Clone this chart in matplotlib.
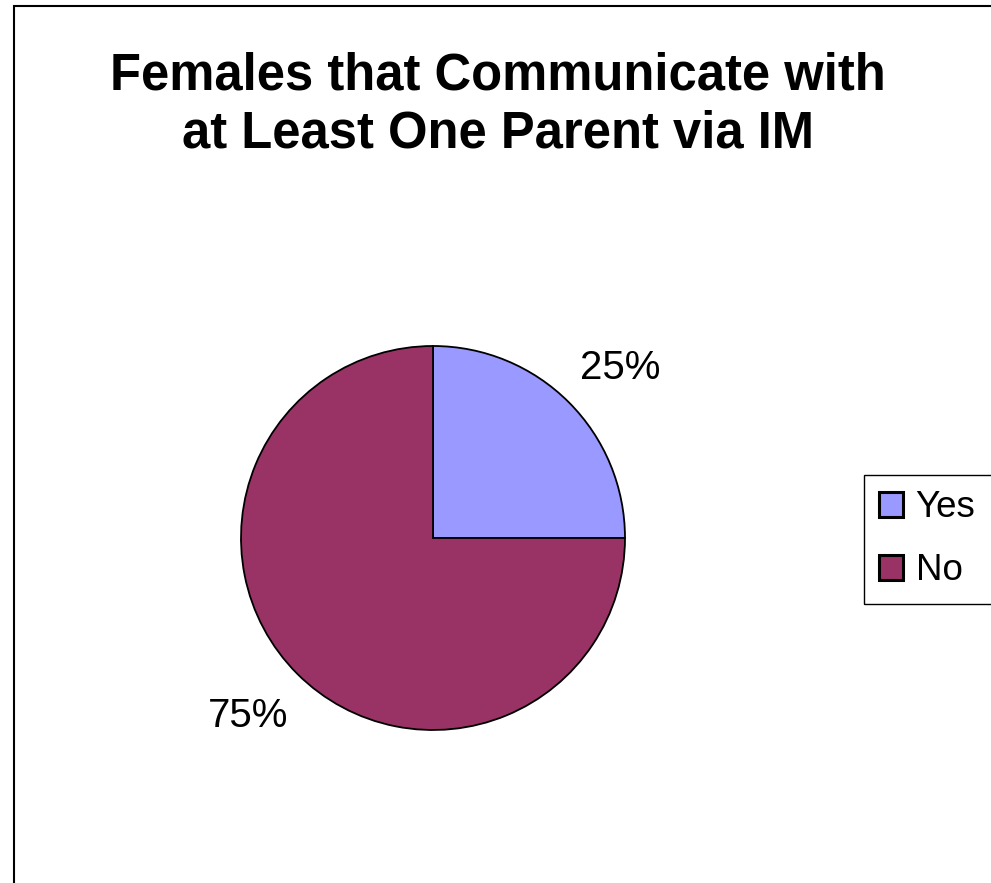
import matplotlib
matplotlib.use("Agg")
import matplotlib.pyplot as plt
from matplotlib.patches import Rectangle, Patch

categories = ["Yes", "No"]
values = [25, 75]
colors = ["#9999FF", "#993366"]
title = "Females that Communicate with\nat Least One Parent via IM"

W, H = 991, 883
fig = plt.figure(figsize=(W / 100, H / 100), dpi=100)
plt.rcParams['font.family'] = ['Liberation Sans', 'DejaVu Sans']

# outer chart border (right/bottom edges cropped off)
fig.patches.append(Rectangle((14 / W, -0.1), 1.2, 1 - 6 / H + 0.1, transform=fig.transFigure,
                             fill=False, edgecolor='black', linewidth=1.5))

fig.text(498 / W, 1 - 105 / H, title, ha='center', va='center', fontsize=36.5,
         fontweight='bold', linespacing=1.26)

cx, cy, r = 433, 538, 192
ax = fig.add_axes([(cx - r) / W, (H - cy - r) / H, 2 * r / W, 2 * r / H])
wedges, texts, autotexts = ax.pie(values, colors=colors, startangle=90, counterclock=False,
                                  autopct='%1.0f%%', pctdistance=1.35, radius=1,
                                  wedgeprops=dict(edgecolor='black', linewidth=1.3))
for t in autotexts:
    t.set_fontsize(29)
# small nudges to match the outside-end label placement
x0, y0 = autotexts[0].get_position()
autotexts[0].set_position((x0 + 0.02, y0 - 0.07))
x1, y1 = autotexts[1].get_position()
autotexts[1].set_position((x1 - 0.01, y1 + 0.03))
ax.set_xlim(-1, 1)
ax.set_ylim(-1, 1)
ax.set_aspect('equal')
ax.axis('off')

handles = [Patch(facecolor=c, edgecolor='black', linewidth=2.2) for c in colors]
leg = fig.legend(handles, categories, loc='upper left', bbox_to_anchor=(864 / W, 1 - 475 / H),
                 fontsize=26.5, frameon=False,
                 handlelength=0.65, handleheight=0.65, handletextpad=0.33,
                 labelspacing=0.76, borderpad=0.42, borderaxespad=0)

# legend frame that runs off the right edge, like the reference
fig.canvas.draw()
bb = leg.get_window_extent().transformed(fig.transFigure.inverted())
fig.patches.append(Rectangle((bb.x0, bb.y0), 1.2, bb.height, transform=fig.transFigure,
                             fill=False, edgecolor='black', linewidth=1.0))

fig.savefig("out.png", dpi=100, facecolor='white')
